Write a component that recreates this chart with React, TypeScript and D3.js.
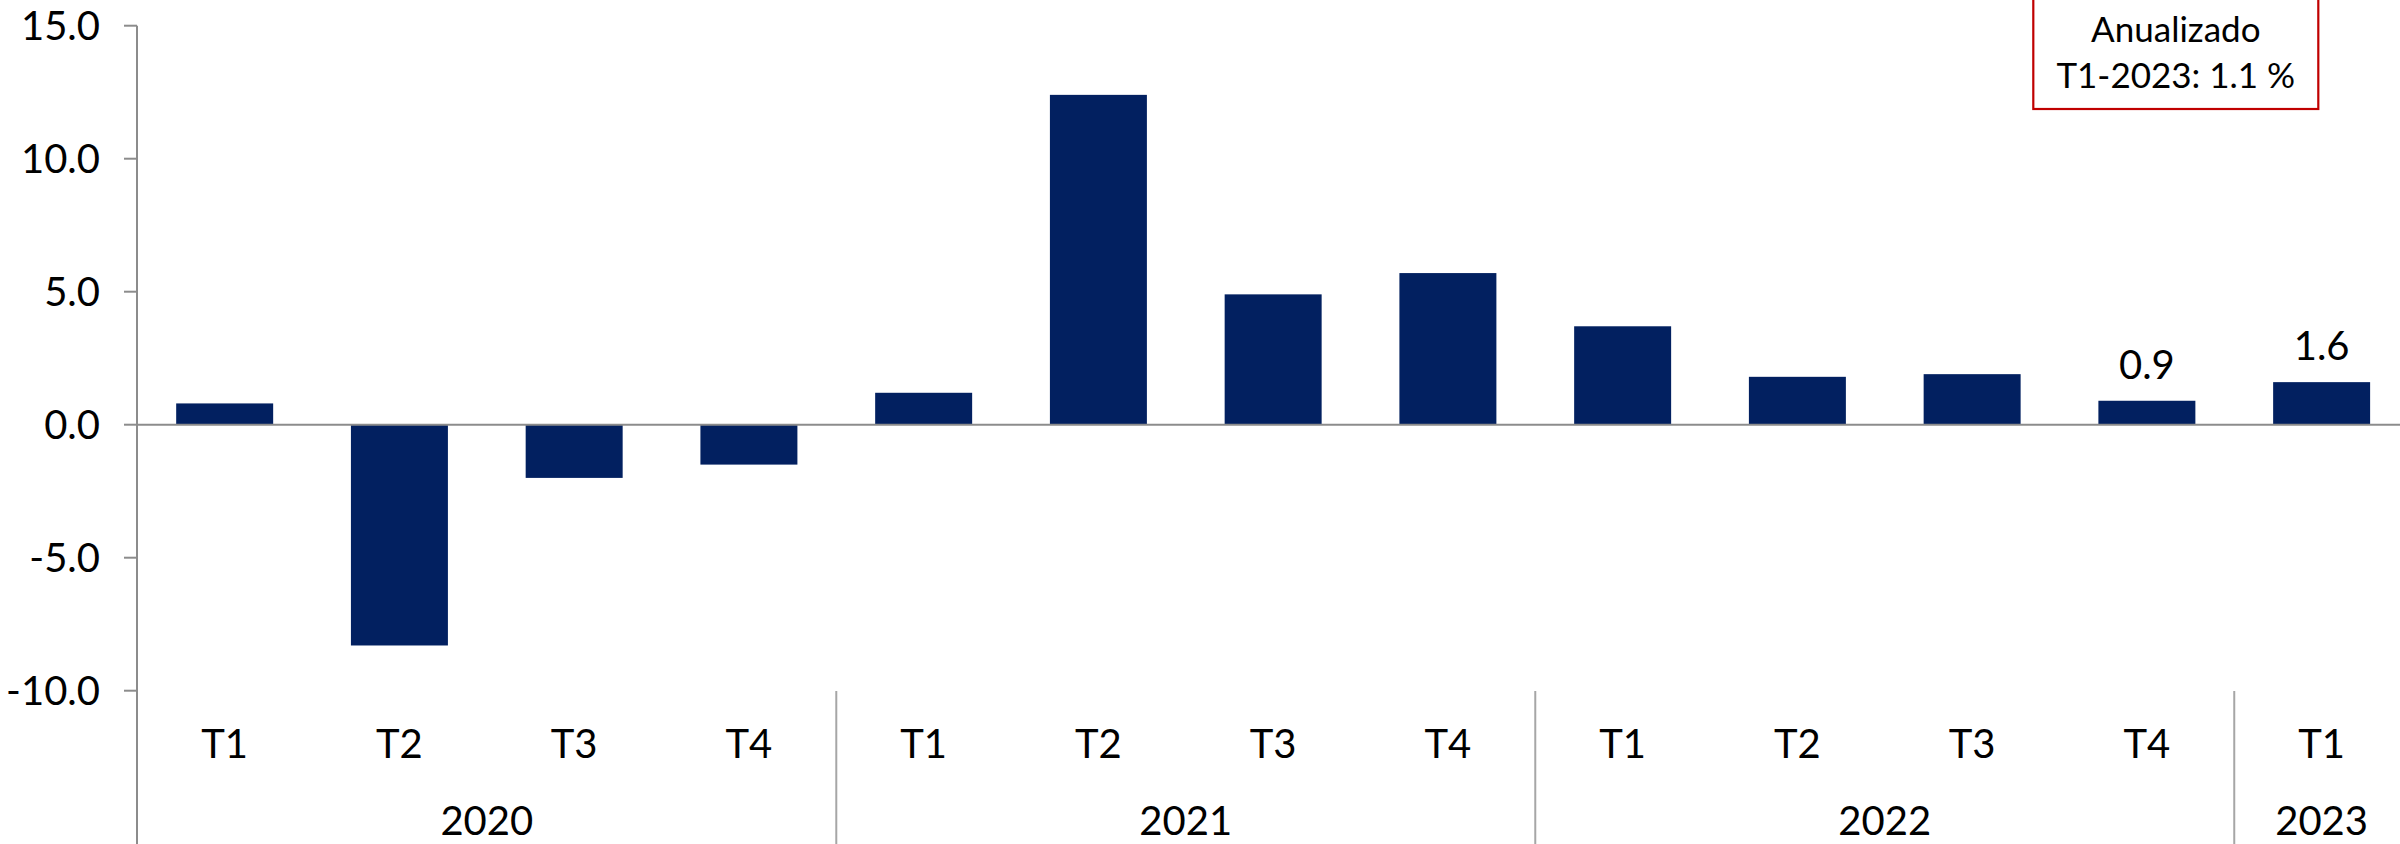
import React from "react";
import * as d3 from "d3";

const quarters = ["T1", "T2", "T3", "T4", "T1", "T2", "T3", "T4", "T1", "T2", "T3", "T4", "T1"];
const years = ["2020", "2020", "2020", "2020", "2021", "2021", "2021", "2021", "2022", "2022", "2022", "2022", "2023"];
const values = [0.8, -8.3, -2.0, -1.5, 1.2, 12.4, 4.9, 5.7, 3.7, 1.8, 1.9, 0.9, 1.6];
const labeledIdx = [11, 12];
const yTicks = [-10, -5, 0, 5, 10, 15];
const yearGroups = ["2020", "2021", "2022", "2023"];
const boxLines = ["Anualizado", "T1-2023: 1.1 %"];

const W = 2400;
const H = 844;
const FONT = "Lato, 'Open Sans', sans-serif";

export default function App() {
  const ids = values.map((_, i) => String(i));
  const x = d3
    .scaleBand<string>()
    .domain(ids)
    .range([137.3, 2409])
    .paddingInner(0.445)
    .paddingOuter(0.2225);
  const y = d3.scaleLinear().domain([-10, 15]).range([690.7, 25.7]);
  const step = x.step();
  const x0 = 137.3;

  const groups = yearGroups.map((yr) => {
    const idx = years.map((v, i) => (v === yr ? i : -1)).filter((i) => i >= 0);
    const start = x0 + idx[0] * step;
    const end = x0 + (idx[idx.length - 1] + 1) * step;
    return { yr, start, end };
  });

  const axisColor = "#8c8c8c";
  const fmt = (v: number) => v.toFixed(1);

  return (
    <svg
      width={W}
      height={H}
      style={{ position: "absolute", left: 0, top: 0, background: "#fff" }}
      fontFamily={FONT}
    >
      <rect x={0} y={0} width={W} height={H} fill="#fff" />
      {values.map((v, i) => (
        <rect
          key={i}
          x={x(String(i))}
          y={Math.min(y(v), y(0))}
          width={x.bandwidth()}
          height={Math.abs(y(v) - y(0))}
          fill="#022060"
        />
      ))}
      <line x1={137} x2={W} y1={y(0)} y2={y(0)} stroke={axisColor} strokeWidth={2} />
      <line x1={137} x2={137} y1={y(15)} y2={H} stroke={axisColor} strokeWidth={2} />
      {yTicks.map((t) => (
        <g key={t}>
          <line x1={124} x2={137} y1={y(t)} y2={y(t)} stroke={axisColor} strokeWidth={2} />
          <text x={100} y={y(t)} dy="0.36em" textAnchor="end" fontSize={40} fill="#000">
            {fmt(t)}
          </text>
        </g>
      ))}
      {quarters.map((q, i) => (
        <text
          key={i}
          x={(x(String(i)) as number) + x.bandwidth() / 2}
          y={758}
          textAnchor="middle"
          fontSize={40}
          fill="#000"
        >
          {q}
        </text>
      ))}
      {groups.slice(1).map((g) => (
        <line key={g.yr} x1={g.start} x2={g.start} y1={691} y2={H} stroke="#a6a6a6" strokeWidth={2} />
      ))}
      {groups.map((g) => (
        <text key={g.yr} x={(g.start + g.end) / 2} y={835} textAnchor="middle" fontSize={40} fill="#000">
          {g.yr}
        </text>
      ))}
      {labeledIdx.map((i) => (
        <text
          key={i}
          x={(x(String(i)) as number) + x.bandwidth() / 2}
          y={y(values[i]) - 22}
          textAnchor="middle"
          fontSize={40}
          fill="#000"
        >
          {fmt(values[i])}
        </text>
      ))}
      <rect x={2033.3} y={-5} width={285} height={114} fill="#fff" stroke="#c00000" strokeWidth={2.2} />
      {boxLines.map((l, k) => (
        <text key={k} x={2175.8} y={41.7 + k * 46.6} textAnchor="middle" fontSize={35} fill="#000">
          {l}
        </text>
      ))}
    </svg>
  );
}
